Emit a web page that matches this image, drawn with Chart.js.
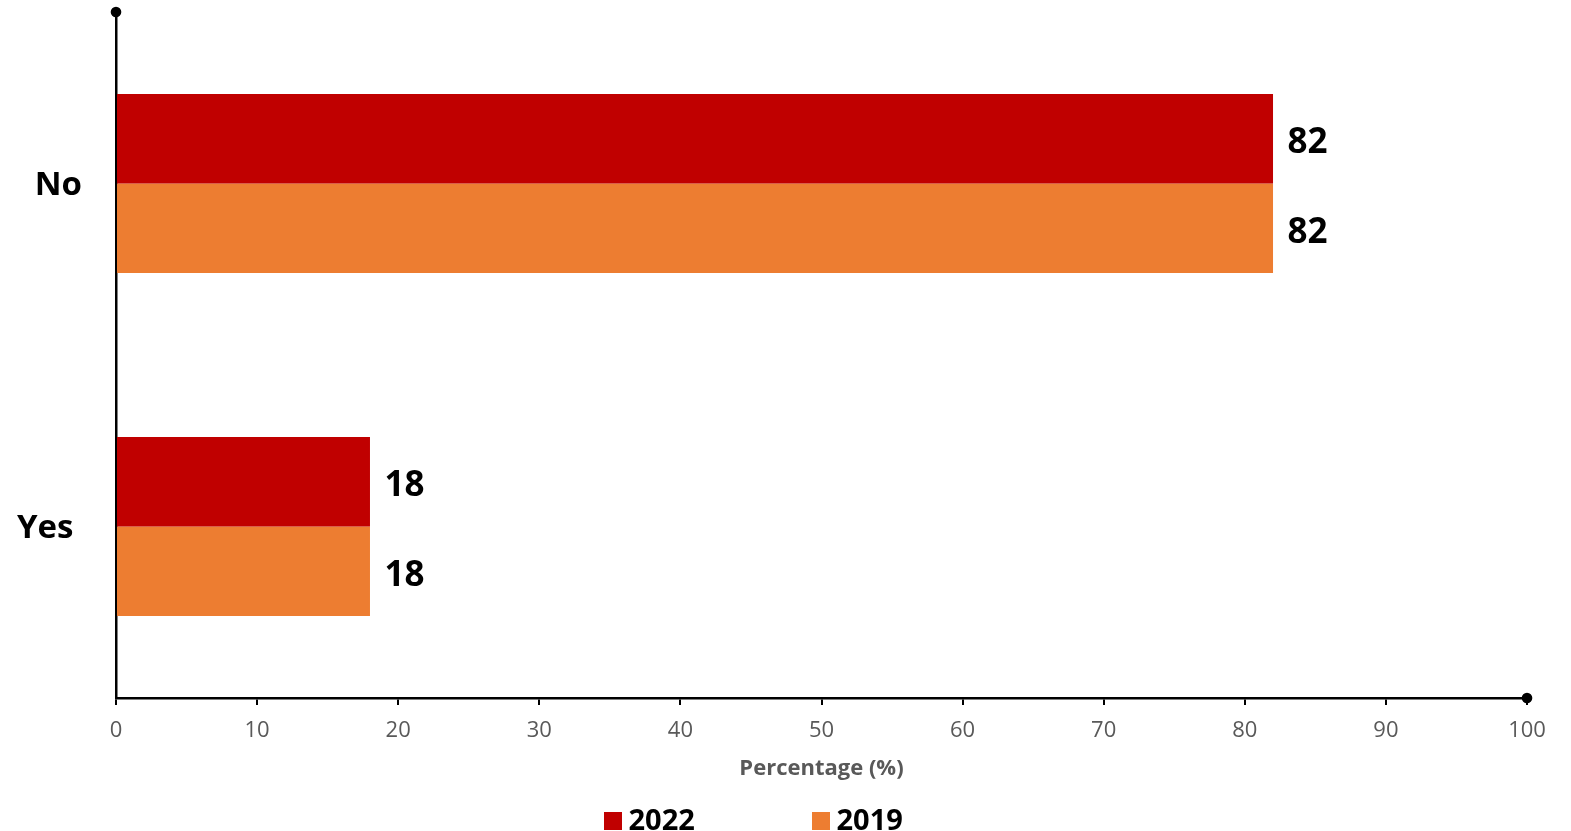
<!DOCTYPE html>
<html>
<head>
<meta charset="utf-8">
<script src="https://cdn.jsdelivr.net/npm/chart.js@4.4.0/dist/chart.umd.min.js"></script>
<style>
html,body{margin:0;padding:0;background:#fff;}
#wrap{width:1571px;height:831px;position:relative;}
</style>
</head>
<body>
<div id="wrap"><canvas id="c" width="1571" height="831"></canvas></div>
<script>
const categories = ["No", "Yes "];
const seriesNames = ["2022", "2019"];
const values2022 = [82, 18];
const values2019 = [82, 18];
const xTicks = [0, 10, 20, 30, 40, 50, 60, 70, 80, 90, 100];
const xTitle = "Percentage (%)";
const colors = ["#C00000", "#ED7D31"];

const FONT = "'Open Sans', 'Noto Sans', sans-serif";

const valueLabels = {
  id: 'valueLabels',
  afterDatasetsDraw(chart) {
    const ctx = chart.ctx;
    ctx.save();
    ctx.font = "bold 35px " + FONT;
    ctx.fillStyle = "#000";
    ctx.textAlign = "left";
    ctx.textBaseline = "alphabetic";
    chart.data.datasets.forEach((ds, di) => {
      const meta = chart.getDatasetMeta(di);
      meta.data.forEach((bar, i) => {
        ctx.fillText(String(ds.data[i]), bar.x + 14.5, bar.y + 14.5);
      });
    });
    ctx.restore();
  }
};

const axisDots = {
  id: 'axisDots',
  afterDraw(chart) {
    const ctx = chart.ctx;
    const x = chart.scales.x, y = chart.scales.y;
    ctx.save();
    ctx.fillStyle = "#000";
    ctx.beginPath();
    ctx.arc(x.getPixelForValue(0), y.top, 5.3, 0, Math.PI * 2);
    ctx.fill();
    ctx.beginPath();
    ctx.arc(x.getPixelForValue(100), y.bottom, 5.3, 0, Math.PI * 2);
    ctx.fill();
    ctx.restore();
  }
};

const customLegend = {
  id: 'customLegend',
  afterDraw(chart) {
    const ctx = chart.ctx;
    ctx.save();
    ctx.font = "bold 29px " + FONT;
    ctx.textBaseline = "alphabetic";
    ctx.textAlign = "left";
    const box = 18, startX = 604, pitch = 208, boxTop = 812, baseline = 830;
    chart.data.datasets.forEach((d, i) => {
      const x = startX + i * pitch;
      ctx.fillStyle = d.backgroundColor;
      ctx.fillRect(x, boxTop, box, box);
      ctx.fillStyle = "#000";
      ctx.fillText(d.label, x + box + 6.5, baseline);
    });
    ctx.restore();
  }
};

new Chart(document.getElementById('c'), {
  type: 'bar',
  data: {
    labels: categories,
    datasets: [
      {label: seriesNames[0], data: values2022, backgroundColor: colors[0], barPercentage: 1, categoryPercentage: 0.522},
      {label: seriesNames[1], data: values2019, backgroundColor: colors[1], barPercentage: 1, categoryPercentage: 0.522}
    ]
  },
  options: {
    indexAxis: 'y',
    responsive: false,
    animation: false,
    layout: {padding: {left: 0, right: 44, top: 12, bottom: 0}},
    plugins: {legend: {display: false}, tooltip: {enabled: false}},
    scales: {
      x: {
        min: 0, max: 100,
        afterBuildTicks(scale) { scale.ticks = xTicks.map(v => ({value: v})); },
        afterFit(scale) { scale.height = 133; scale.paddingLeft = 0; scale.paddingRight = 0; },
        border: {display: true, color: "#000", width: 2.5},
        grid: {display: true, drawOnChartArea: false, drawTicks: true, tickLength: 7, color: "#000", lineWidth: 2},
        ticks: {color: "#595959", font: {family: FONT, size: 22}, padding: 13, maxRotation: 0},
        title: {display: true, text: xTitle, color: "#595959", font: {family: FONT, size: 22, weight: 'bold'}, padding: {top: 0, bottom: 49}}
      },
      y: {
        afterFit(scale) { scale.width = 116; scale.paddingTop = 0; scale.paddingBottom = 0; },
        border: {display: true, color: "#000", width: 2.5},
        grid: {display: false, drawTicks: false},
        ticks: {color: "#000", font: {family: FONT, size: 33, weight: 'bold'}, padding: 34, labelOffset: 2}
      }
    }
  },
  plugins: [valueLabels, axisDots, customLegend]
});
</script>
</body>
</html>
